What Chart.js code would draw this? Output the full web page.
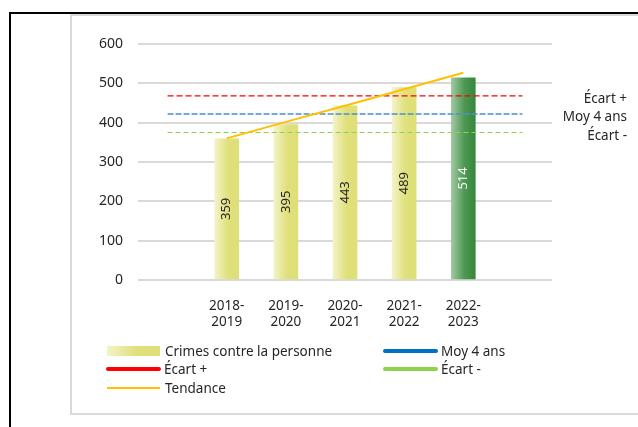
<!DOCTYPE html>
<html>
<head>
<meta charset="utf-8">
<script src="https://cdn.jsdelivr.net/npm/chart.js@4"></script>
<style>
body { margin: 0; width: 638px; height: 427px; overflow: hidden; background: #fff; font-family: "Noto Sans", sans-serif; }
#frame { position: absolute; left: 9px; top: 12px; width: 700px; height: 500px; border-left: 2px solid #000; border-top: 2px solid #000; }
#box { position: absolute; left: 70px; top: 14px; width: 700px; height: 397px; border: 2px solid #d9d9d9; }
#wrap { position: absolute; left: 0; top: 0; width: 638px; height: 427px; }
.leg { position: absolute; font-size: 13.5px; color: #262626; line-height: 18px; height: 18px; white-space: nowrap; }
.sw { position: absolute; }
</style>
</head>
<body>
<div id="frame"></div>
<div id="box"></div>
<div id="wrap"><canvas id="chart" width="638" height="427"></canvas></div>
<div id="legend"></div>
<script>
// data
const categories = ['', ['2018-', '2019'], ['2019-', '2020'], ['2020-', '2021'], ['2021-', '2022'], ['2022-', '2023'], ''];
const crimes = [null, 359, 395, 443, 489, 514, null];
const moy4ans = [422, 422, 422, 422, 422, 422, 422];
const ecartPlus = [468, 468, 468, 468, 468, 468, 468];
const ecartMoins = [375, 375, 375, 375, 375, 375, 375];
const tendance = [null, 360, 402, 443, 485, 527, null];
const yMin = 0, yMax = 600, yStep = 100;

const textColor = '#262626';

// horizontal gradient on each bar, last one is green
const barGradient = {
    id: 'barGradient',
    beforeDatasetDraw(chart, args) {
        const ds = chart.data.datasets[args.index];
        if (ds.type !== 'bar') return;
        const ctx = chart.ctx;
        args.meta.data.forEach((el, i) => {
            if (crimes[i] == null) return;
            const x0 = el.x - el.width / 2;
            const x1 = el.x + el.width / 2;
            const g = ctx.createLinearGradient(x0, 0, x1, 0);
            if (i === crimes.length - 2) {
                g.addColorStop(0, '#a3c8a4');
                g.addColorStop(0.55, '#4d9852');
                g.addColorStop(1, '#36873c');
            } else {
                g.addColorStop(0, '#f3f3c9');
                g.addColorStop(0.55, '#e0e07c');
                g.addColorStop(1, '#dfdf78');
            }
            el.options = Object.assign({}, el.options, { backgroundColor: g });
        });
    }
};

// values written vertically inside bars + names at the right of the dashed lines
const labelsPlugin = {
    id: 'labelsPlugin',
    afterDatasetsDraw(chart) {
        const ctx = chart.ctx;
        chart.data.datasets.forEach((ds, di) => {
            const meta = chart.getDatasetMeta(di);
            if (ds.type === 'bar') {
                meta.data.forEach((el, i) => {
                    if (crimes[i] == null) return;
                    ctx.save();
                    ctx.translate(el.x, (el.y + el.base) / 2);
                    ctx.rotate(-Math.PI / 2);
                    ctx.font = '13px "Noto Sans"';
                    ctx.fillStyle = i === crimes.length - 2 ? '#ffffff' : textColor;
                    ctx.textAlign = 'center';
                    ctx.textBaseline = 'middle';
                    ctx.fillText(String(crimes[i]), 0, 0);
                    ctx.restore();
                });
            }
            if (ds.sideLabel) {
                const y = chart.scales.y.getPixelForValue(ds.data[0]);
                ctx.save();
                ctx.font = '13.5px "Noto Sans"';
                ctx.fillStyle = textColor;
                ctx.textAlign = 'right';
                ctx.textBaseline = 'middle';
                ctx.fillText(ds.label, 627, y + 3.5);
                ctx.restore();
            }
        });
    }
};

const chart = new Chart(document.getElementById('chart'), {
    data: {
        labels: categories,
        datasets: [
            {
                type: 'bar',
                label: 'Crimes contre la personne',
                data: crimes,
                backgroundColor: '#e0e07c',
                barThickness: 24,
                order: 5
            },
            {
                type: 'line',
                label: 'Moy 4 ans',
                data: moy4ans,
                borderColor: '#4f8fcf',
                borderWidth: 1.3,
                borderDash: [6, 2],
                pointRadius: 0,
                sideLabel: true,
                legendColor: '#0070c0',
                order: 2
            },
            {
                type: 'line',
                label: 'Écart +',
                data: ecartPlus,
                borderColor: '#ff0000',
                borderWidth: 1.2,
                borderDash: [6, 3],
                pointRadius: 0,
                sideLabel: true,
                legendColor: '#ff0000',
                order: 2
            },
            {
                type: 'line',
                label: 'Écart -',
                data: ecartMoins,
                borderColor: '#92d050',
                borderWidth: 1.2,
                borderDash: [5, 3],
                pointRadius: 0,
                sideLabel: true,
                legendColor: '#92d050',
                order: 2
            },
            {
                type: 'line',
                label: 'Tendance',
                data: tendance,
                borderColor: '#ffc000',
                borderWidth: 2,
                pointRadius: 0,
                legendColor: '#ffc000',
                order: 1
            }
        ]
    },
    options: {
        responsive: false,
        animation: false,
        layout: { padding: { left: 0, right: 86, top: 44, bottom: 0 } },
        plugins: {
            legend: { display: false },
            tooltip: { enabled: false }
        },
        scales: {
            x: {
                grid: { display: false },
                border: { display: false },
                ticks: {
                    color: textColor,
                    font: { family: 'Noto Sans', size: 13.5 },
                    padding: 10,
                    maxRotation: 0
                },
                afterFit(scale) { scale.height = 147; }
            },
            y: {
                min: yMin,
                max: yMax,
                grid: { color: '#d9d9d9', lineWidth: 2, drawTicks: false },
                border: { display: false },
                ticks: {
                    stepSize: yStep,
                    color: textColor,
                    font: { family: 'Noto Sans', size: 14 },
                    padding: 15
                },
                afterFit(scale) { scale.width = 138; }
            }
        }
    },
    plugins: [barGradient, labelsPlugin]
});

// legend laid out in two columns like the original
const legendSlots = {
    'Crimes contre la personne': { x: 107, y: 351, kind: 'box' },
    'Moy 4 ans': { x: 383, y: 351, kind: 'thick' },
    'Écart +': { x: 106, y: 369, kind: 'thick' },
    'Écart -': { x: 383, y: 369, kind: 'thick' },
    'Tendance': { x: 107, y: 388, kind: 'thin' }
};
const legendEl = document.getElementById('legend');
chart.data.datasets.forEach(ds => {
    const slot = legendSlots[ds.label];
    const sw = document.createElement('div');
    sw.className = 'sw';
    if (slot.kind === 'box') {
        sw.style.cssText = `left:${slot.x}px;top:${slot.y - 5}px;width:53px;height:10px;background:linear-gradient(90deg,#f3f3c9,#e0e07c 55%,#dfdf78);`;
    } else if (slot.kind === 'thick') {
        sw.style.cssText = `left:${slot.x}px;top:${slot.y - 2}px;width:55px;height:4px;border-radius:2px;background:${ds.legendColor};`;
    } else {
        sw.style.cssText = `left:${slot.x}px;top:${slot.y - 1}px;width:53px;height:1.5px;background:${ds.legendColor};`;
    }
    legendEl.appendChild(sw);
    const t = document.createElement('div');
    t.className = 'leg';
    t.textContent = ds.label;
    t.style.left = (slot.x + 58) + 'px';
    t.style.top = (slot.y - 9) + 'px';
    legendEl.appendChild(t);
});
</script>
</body>
</html>
